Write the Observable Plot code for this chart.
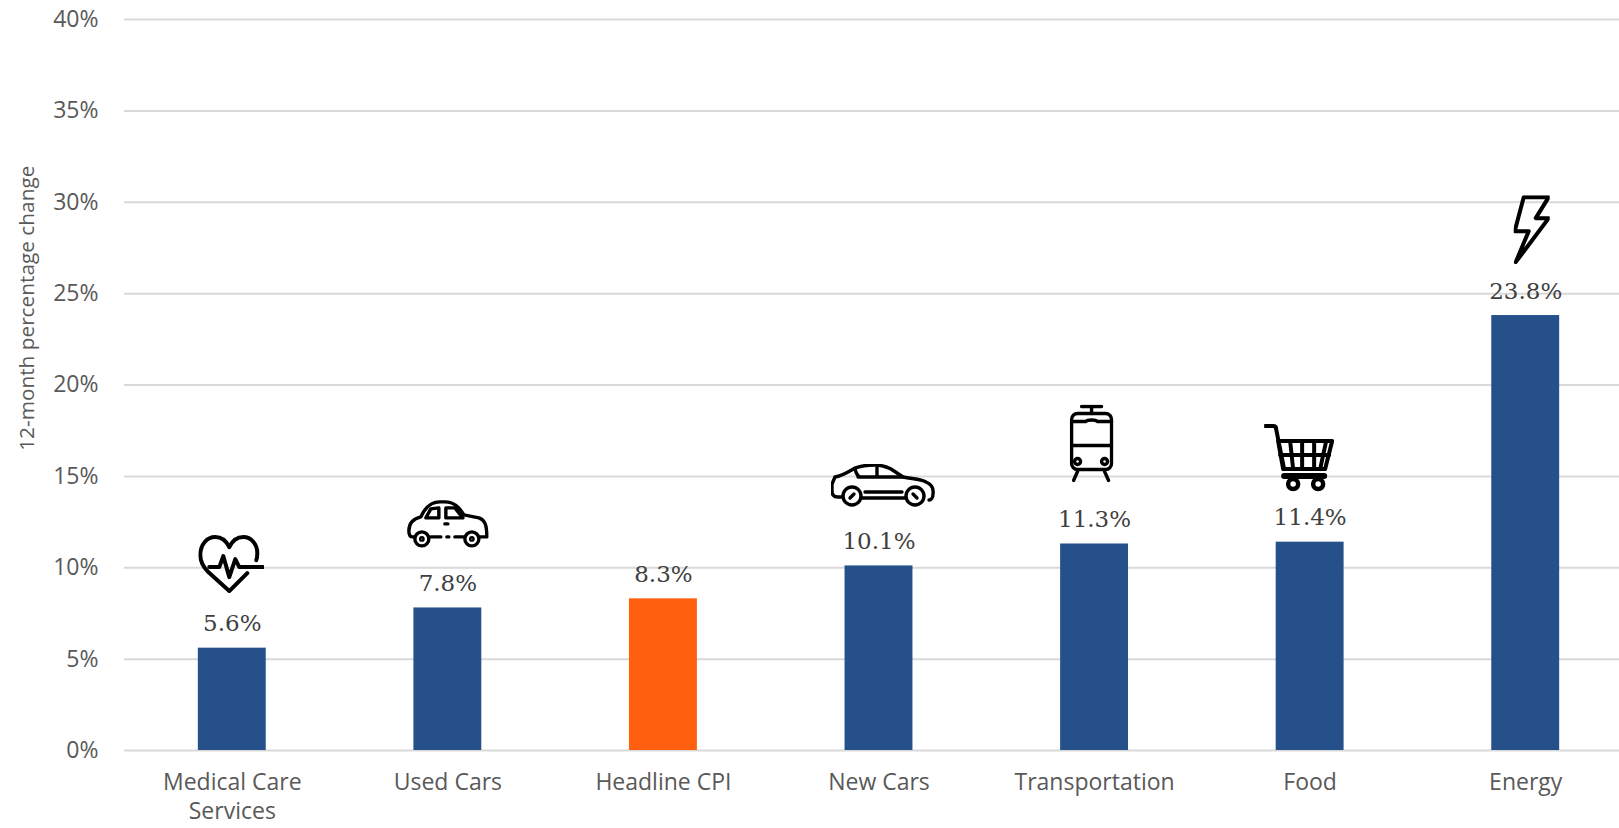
<!DOCTYPE html>
<html>
<head>
<meta charset="utf-8">
<style>html,body{margin:0;padding:0;background:#fff;overflow:hidden}</style>
<script src="https://cdn.jsdelivr.net/npm/d3@7"></script>
<script src="https://cdn.jsdelivr.net/npm/@observablehq/plot@0.6"></script>
</head>
<body>
<div id="chart"></div>
<script>
const categories = ["Medical Care\nServices","Used Cars","Headline CPI","New Cars","Transportation","Food","Energy"];
const values = [5.6,7.8,8.3,10.1,11.3,11.4,23.8];
const iconLevels = [10.2,12.4,null,14.5,16.8,16.0,28.5];
const yTicks = [0,5,10,15,20,25,30,35,40];
const yTitle = "12-month percentage change";

const rows = categories.map((c,i)=>({c,v:values[i],level:iconLevels[i]}));

const iconArt = [
 {w:66,h:58,dx:-1,sw:4,body:'<path d="M49 38L31 56L10 37C4 31 2 26 2 20C2 9 9 2 17 2C23 2 28 6 31 12C34 6 39 2 45 2C53 2 59 9 59 18C59 21 59 23 58 25"/><path d="M11 32H21L25 21L31 42L37 24L41 32H65"/>'},
 {w:82,h:48,dx:0,sw:3.4,body:'<path d="M8 37H6C3 37 2 35 2 31C2 23 6 19 14 17C18 8 24 2 33 2H38C47 2 52 7 57 15L72 18C78 20 80 25 80 37H73"/><path d="M24 37H34M40 37H42M48 37H57"/><path d="M19 18L24 9L32 8V18ZM39 8H48L56 18H39Z"/><path d="M38 24H41"/><circle cx="15" cy="39" r="7"/><circle cx="65" cy="39" r="7"/><circle cx="15" cy="39" r="1.2"/><circle cx="65" cy="39" r="1.2"/>'},
 null,
 {w:104,h:43,dx:4,sw:3.4,body:'<path d="M11 33H7C2 33 1 30 1 27V20L4 13C11 12 17 8 24 4C32 1 38 1 44 1C51 1 56 3 60 5L72 13C82 15 90 15 95 18C100 20 103 23 102 30C102 34 100 36 98 36"/><path d="M27 13H72M46 3V13M24 5C25 9 26 12 29 13"/><path d="M34 28H71M31 34H75"/><circle cx="21" cy="32" r="9"/><circle cx="84" cy="32" r="9"/><path d="M19 34L23 30M82 30L86 34"/>'},
 {w:44,h:78,dx:-3,sw:3.4,body:'<path d="M12 2H32M22 2V9"/><rect x="2" y="9" width="40" height="56" rx="6"/><path d="M2 17H16C18 15 26 15 28 17H42M2 41H42"/><circle cx="8" cy="57" r="3"/><circle cx="35" cy="57" r="3"/><path d="M8 67L4 76M35 67L39 76"/>'},
 {w:70,h:68,dx:-11,sw:4,body:'<path d="M1 2H9C11 2 12 3 12 5L20 45" stroke-width="4"/><path d="M14 17H68L61 45H19Z"/><path d="M26 17L29 45M38 17V45M50 17V45M62 17L56 45M16 31H65"/><path d="M60 52H20" stroke-width="6"/><circle cx="29" cy="60" r="5" stroke-width="4.5"/><circle cx="54" cy="60" r="5" stroke-width="4.5"/>'},
 {w:36,h:69,dx:6,sw:4,body:'<path d="M10 2H35L22 23H35L2 67L15 36H1Z"/>'}
];
const iconSrc = a => "data:image/svg+xml," + encodeURIComponent(
 `<svg xmlns="http://www.w3.org/2000/svg" viewBox="0 0 ${a.w} ${a.h}" width="${a.w}" height="${a.h}"><g fill="none" stroke="#000" stroke-width="${a.sw}" stroke-linecap="round" stroke-linejoin="round">${a.body}</g></svg>`);

const tickFont = '"Open Sans"';
const chart = Plot.plot({
  width:1619, height:828,
  marginTop:19, marginBottom:78, marginLeft:124, marginRight:0,
  style:{background:"#fff",fontFamily:tickFont},
  x:{domain:categories,range:[124,1633],paddingInner:0.685,paddingOuter:0.3425,round:false},
  y:{domain:[0,40],range:[750,19]},
  marks:[
    Plot.gridY(yTicks,{stroke:"#d9d9d9",strokeWidth:2,strokeOpacity:1}),
    Plot.barY(rows,{x:"c",y:"v",fill:d=>d.c==="Headline CPI"?"#ff5f0f":"#25508a"}),
    Plot.axisY(yTicks,{tickSize:0,tickPadding:26,tickFormat:d=>d+"%",fontSize:23,fill:"#595959",label:null}),
    Plot.axisX({tickSize:0,tickPadding:19,fontSize:23,fill:"#595959",label:null,lineHeight:1.25,textOverflow:null}),
    Plot.text([yTitle],{text:d=>d,frameAnchor:"left",textAnchor:"middle",y:()=>24.2,dx:-97,rotate:-90,fontSize:20.8,fill:"#595959"}),
    Plot.text(rows,{x:"c",y:"v",text:d=>d.v.toFixed(1)+"%",lineAnchor:"bottom",dy:-17,fontSize:23,fill:"#404040",fontFamily:"DejaVu Serif"}),
    ...rows.map((r,i)=>iconArt[i]&&Plot.image([r],{x:"c",y:"level",src:()=>iconSrc(iconArt[i]),width:iconArt[i].w,height:iconArt[i].h,dx:iconArt[i].dx})).filter(Boolean)
  ]
});
document.getElementById("chart").appendChild(chart);
</script>
</body>
</html>
